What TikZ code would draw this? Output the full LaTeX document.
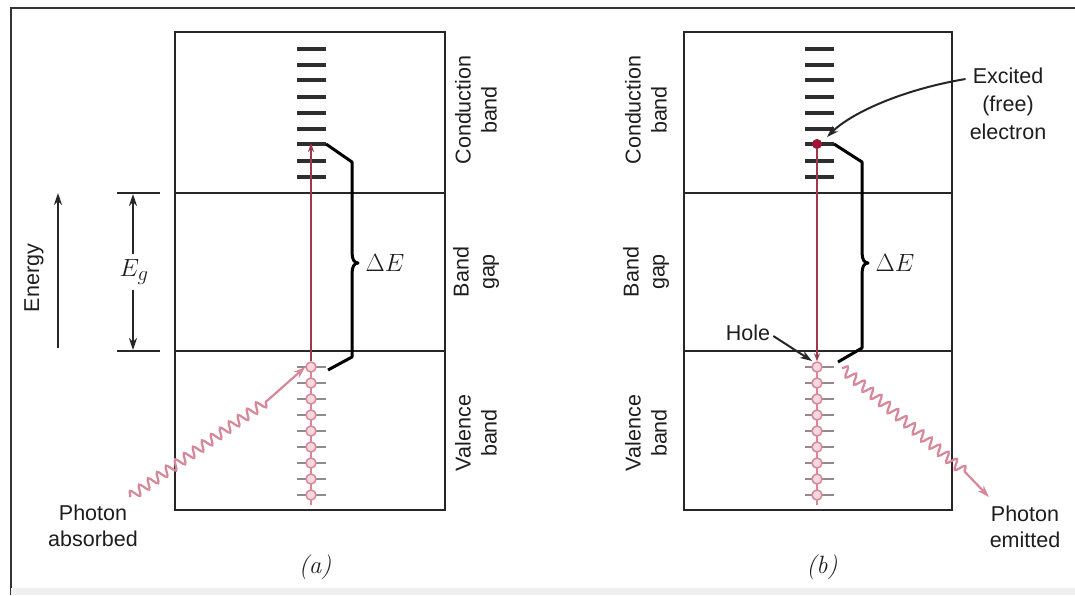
\documentclass[tikz,border=0pt]{standalone}
\usepackage{fontspec}
\setsansfont{Liberation Sans}
\usetikzlibrary{arrows.meta,decorations.pathmorphing}
\definecolor{lvl}{HTML}{2E2E2E}
\definecolor{redl}{HTML}{9A3A4A}
\definecolor{pinkl}{HTML}{D88798}
\definecolor{pinkf}{HTML}{F8D8DE}
\definecolor{tickc}{HTML}{7A6A6E}
\definecolor{dotred}{HTML}{A01535}
\definecolor{txt}{HTML}{1E1E1E}
\begin{document}
\begin{tikzpicture}[x=1pt,y=-1pt,
  box/.style={draw=black!85,line width=2.6pt},
  level/.style={draw=lvl,line width=3.4pt},
  redline/.style={draw=redl,line width=1.7pt},
  chainline/.style={draw=pinkl,line width=1.7pt},
  tickline/.style={draw=tickc!80,line width=2.4pt},
  elec/.style={circle,draw=pinkl,fill=pinkf,line width=1.5pt,minimum size=10pt,inner sep=0pt},
  brace/.style={draw=black,line width=3pt,line join=round},
  wave/.style={draw=pinkl,line width=2.2pt,decoration={snake,segment length=11pt,amplitude=5pt}},
  lab/.style={font=\sffamily\fontsize{21.5}{26}\selectfont,text=txt,align=center,inner sep=0pt},
  rlab/.style={lab,rotate=90},
  tip/.style={-{Stealth[length=12pt,width=8pt]}},
  thin/.style={draw=black!85,line width=2pt}
]
\useasboundingbox (0,0) rectangle (1075,595);
\fill[white] (0,0) rectangle (1075,595);
% outer frame
\draw[black!80,line width=2.2pt] (1075,8) -- (11,8) -- (11,595);
\fill[black!6] (11,588) rectangle (1075,595);

% ---------- panel (a) ----------
\draw[box] (175,32) rectangle (445,510);
\draw[box] (175,193) -- (445,193);
\draw[box] (175,351) -- (445,351);
% conduction levels
\foreach \y [count=\i] in {49,65,80,97,113,129,144,161,177}
  \draw[level] (297,\y) -- (326,\y) coordinate (ca\i);
% valence electrons
\draw[chainline] (311,505) -- (311,367);
\foreach \y [count=\i] in {367,383,399,415,431,447,463,479,495}{
  \draw[tickline] (297,\y) -- (326,\y);
  \node[elec] (va\i) at (311,\y) {};
}
\coordinate (atop) at (311,143);
\draw[redline,-{Stealth[length=9pt,width=6pt]}] (va1.north) -- (atop);
% Delta E brace
\draw[brace] (ca7) -- (352,162) -- (352,252) .. controls (352,259) and (354,263) .. (358,263)
  .. controls (354,263) and (352,267) .. (352,274) -- (352,357) -- (328,370) coordinate (abot);
\node[font=\fontsize{26}{28}\selectfont,text=txt] (dEa) at (385,263) {$\Delta E$};
% side labels
\node[rlab] (cba) at (476,110) {Conduction\\band};
\node[rlab] (bga) at (476,272) {Band\\gap};
\node[rlab] (vba) at (476,433) {Valence\\band};
% energy arrow
\coordinate (en0) at (58,348);
\coordinate (en1) at (58,193);
\draw[thin,tip] (en0) -- (en1);
\node[rlab] (energy) at (34,278) {Energy};
% Eg
\draw[thin] (117,193) coordinate (eg1a) -- (160,193);
\draw[thin] (117,351) coordinate (eg2a) -- (160,351);
\coordinate (egt) at (133,194);
\coordinate (egb) at (133,350);
\node[font=\fontsize{31}{33}\selectfont,text=txt] (eg) at (134,272) {$E_g$};
\draw[thin,tip] (eg.north) ++(-1,-2) -- (egt);
\draw[thin,tip] (eg.south) ++(-1,2) -- (egb);
% photon absorbed
\node[lab] (pa) at (93,526) {Photon\\absorbed};
\coordinate (pas) at (130,497);
\coordinate (pam) at (268,400);
\draw[wave,tip] (pas) decorate {-- (pam)} -- (va1.west);
\node[font=\itshape\fontsize{25}{27}\selectfont,text=txt] (la) at (315,567) {(a)};

% ---------- panel (b) ----------
\draw[box] (684,32) rectangle (952,510);
\draw[box] (684,193) -- (952,193);
\draw[box] (684,351) -- (952,351);
\foreach \y [count=\i] in {49,65,80,97,113,129,144,161,177}
  \draw[level] (805,\y) -- (834,\y) coordinate (cb\i);
\draw[chainline] (817,505) -- (817,367);
\foreach \y [count=\i] in {367,383,399,415,431,447,463,479,495}{
  \draw[tickline] (805,\y) -- (834,\y);
  \node[elec] (vb\i) at (817,\y) {};
}
\node[circle,fill=dotred,minimum size=10pt,inner sep=0pt] (exdot) at (817,144) {};
\draw[redline,-{Stealth[length=8pt,width=6pt]}] (exdot.south) -- (vb1.north);
\draw[brace] (cb7) -- (862,162) -- (862,252) .. controls (862,259) and (864,263) .. (868,263)
  .. controls (864,263) and (862,267) .. (862,274) -- (862,348) -- (838,362) coordinate (bbot);
\node[font=\fontsize{26}{28}\selectfont,text=txt] (dEb) at (895,263) {$\Delta E$};
\node[rlab] (cbb) at (646,110) {Conduction\\band};
\node[rlab] (bgb) at (646,272) {Band\\gap};
\node[rlab] (vbb) at (646,433) {Valence\\band};
% excited electron label
\node[lab,font=\sffamily\fontsize{21.5}{28}\selectfont] (exc) at (1008,104) {Excited\\(free)\\electron};
\draw[thin,tip] (exc.west) ++(-4,-25) .. controls (900,90) and (850,114) .. (827,137);
% hole
\node[lab] (hole) at (748,333) {Hole};
\draw[thin,tip] (hole.east) ++(3,3) -- (812,361);
% photon emitted
\coordinate (pes) at (842,368);
\coordinate (pem) at (966,473);
\node[lab] (pe) at (1025,527) {Photon\\emitted};
\draw[wave,tip] (pes) decorate {-- (pem)} -- (989,497);
\node[font=\itshape\fontsize{25}{27}\selectfont,text=txt] (lb) at (822,567) {(b)};
\end{tikzpicture}
\end{document}
